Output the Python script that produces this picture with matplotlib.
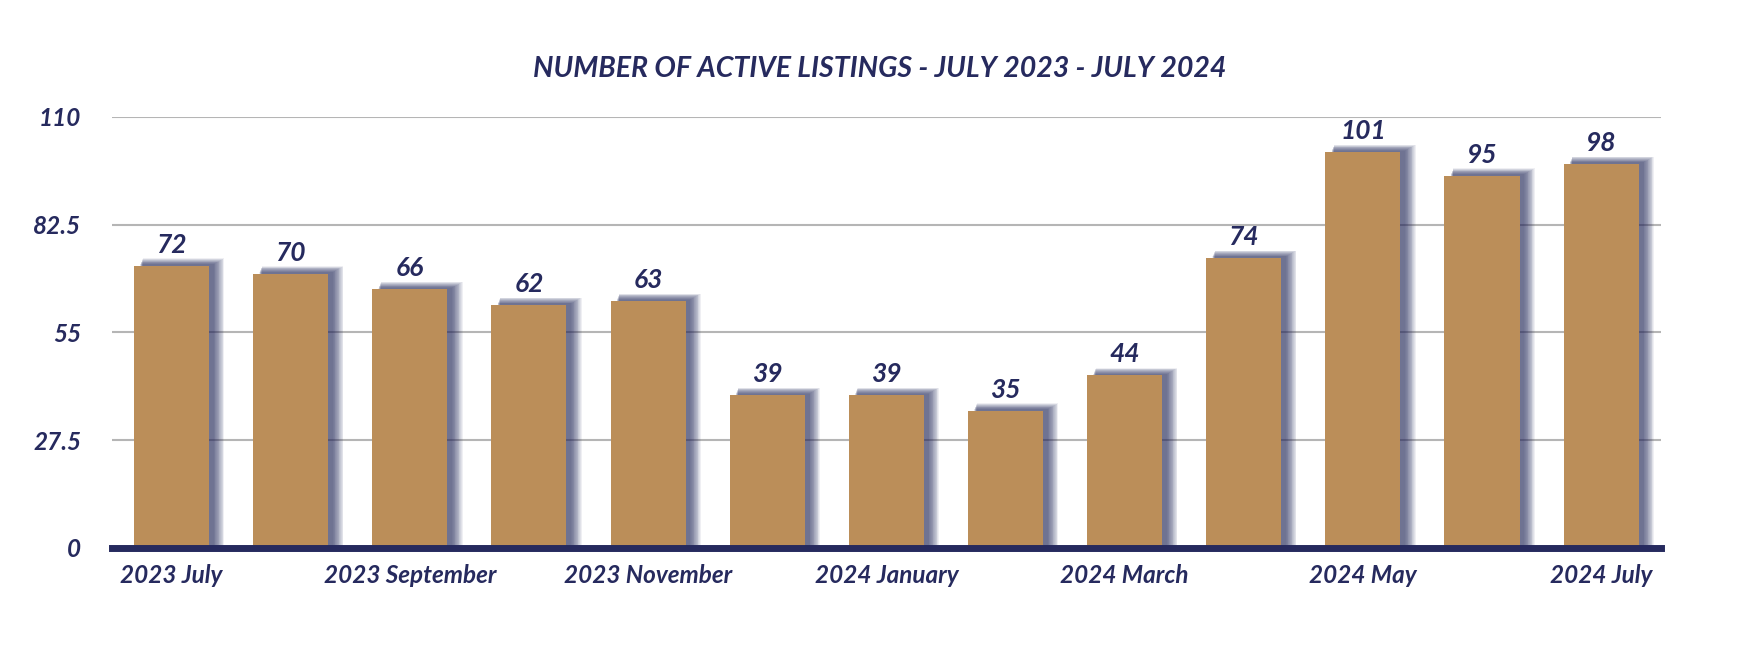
import numpy as np
import matplotlib
matplotlib.use("Agg")
import matplotlib.pyplot as plt

months = ['2023 July', '2023 August', '2023 September', '2023 October',
          '2023 November', '2023 December', '2024 January', '2024 February',
          '2024 March', '2024 April', '2024 May', '2024 June', '2024 July']
listings = [72, 70, 66, 62, 63, 39, 39, 35, 44, 74, 101, 95, 98]
yticks = [0, 27.5, 55, 82.5, 110]
ytick_labels = ['0', '27.5', '55', '82.5', '110']

navy = '#262a5e'
gold = '#bb8e59'
plt.rcParams['font.family'] = ['Lato', 'DejaVu Sans']

fig = plt.figure(figsize=(17.6, 6.6), dpi=100)
ax = fig.add_axes([0.0636, 0.170, 0.880, 0.653])

x = np.arange(len(months))
w = 0.63

# soft shadow on the right and top: stacked translucent rectangles
px = 1 / 119.0
py = 110 / 431.0
vals = np.array(listings)
for i in range(14):
    e = 14 - i
    left = x - w / 2 + (6 + e * 0.2) * px
    right = x + w / 2 + (4 + e * 0.8) * px
    ax.bar(left, vals + (1 + e * 0.45) * py, width=right - left,
           align='edge', color=navy, alpha=0.07, linewidth=0, zorder=2)

ax.bar(x, listings, width=w, color=gold, linewidth=0, zorder=3)

for xi, v in zip(x, listings):
    ax.text(xi, v + 2.3, str(v), ha='center', va='bottom', fontsize=19,
            fontweight='bold', style='italic', color=navy, zorder=4)

ax.set_xlim(-0.5, 12.5)
ax.set_ylim(0, 110)
ax.set_yticks(yticks)
ax.set_yticklabels(ytick_labels)
ax.set_xticks(x[::2])
ax.set_xticklabels(months[::2])
for lab in ax.get_xticklabels() + ax.get_yticklabels():
    lab.set_fontweight('bold')
    lab.set_style('italic')
    lab.set_color(navy)
    lab.set_fontsize(17.5)
ax.tick_params(axis='both', length=0)
ax.tick_params(axis='x', pad=12)
ax.tick_params(axis='y', pad=22)

ax.grid(axis='y', color='#b5b5b5', linewidth=1.5, zorder=1)
ax.set_axisbelow(True)
for s in ['top', 'right', 'left']:
    ax.spines[s].set_visible(False)
ax.spines['bottom'].set_color(navy)
ax.spines['bottom'].set_linewidth(5)
ax.spines['bottom'].set_zorder(5)

fig.text(0.5, 0.895, 'NUMBER OF ACTIVE LISTINGS - JULY 2023 - JULY 2024',
         ha='center', va='center', fontsize=20.5, fontweight='bold',
         style='italic', color=navy)

fig.savefig('out.png', dpi=100, facecolor='white')
